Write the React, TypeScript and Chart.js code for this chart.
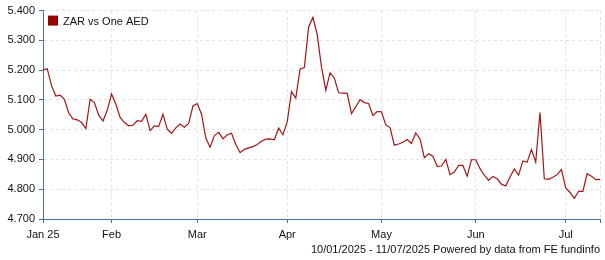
import React, { useEffect, useRef } from "react";
import { Chart, registerables } from "chart.js";

Chart.register(...registerables);

const START_DATE = "2025-01-10";
const END_DATE = "2025-07-11";
const SERIES_NAME = "ZAR vs One AED";
const FOOTER_TEXT = "10/01/2025 - 11/07/2025 Powered by data from FE fundinfo";
const MONTH_NAMES = ["Jan", "Feb", "Mar", "Apr", "May", "Jun", "Jul", "Aug", "Sep", "Oct", "Nov", "Dec"];

const Y_MIN = 4.7;
const Y_MAX = 5.4;
const Y_STEP = 0.1;

// ZAR per one AED, one value per trading day (weekdays)
const VALUES: number[] = [
  5.202, 5.204, 5.147, 5.113, 5.116, 5.102, 5.056, 5.036, 5.033, 5.024,
  5.004, 5.102, 5.091, 5.049, 5.029, 5.065, 5.12, 5.086, 5.041, 5.024,
  5.013, 5.015, 5.03, 5.028, 5.052, 4.997, 5.013, 5.011, 5.052, 5.002,
  4.988, 5.006, 5.019, 5.008, 5.021, 5.08, 5.088, 5.052, 4.972, 4.941,
  4.98, 4.991, 4.969, 4.983, 4.988, 4.95, 4.923, 4.934, 4.939, 4.943,
  4.95, 4.961, 4.968, 4.969, 4.966, 5.005, 4.983, 5.026, 5.128, 5.106,
  5.203, 5.209, 5.345, 5.377, 5.319, 5.21, 5.132, 5.191, 5.173, 5.124,
  5.123, 5.122, 5.054, 5.077, 5.101, 5.091, 5.088, 5.048, 5.061, 5.06,
  5.016, 5.007, 4.948, 4.952, 4.958, 4.967, 4.954, 4.989, 4.969, 4.906,
  4.919, 4.911, 4.877, 4.878, 4.9, 4.849, 4.858, 4.88, 4.88, 4.844,
  4.899, 4.899, 4.869, 4.847, 4.83, 4.843, 4.835, 4.817, 4.811, 4.841,
  4.868, 4.847, 4.895, 4.891, 4.933, 4.891, 5.058, 4.835, 4.833, 4.84,
  4.849, 4.866, 4.804, 4.789, 4.769, 4.793, 4.793, 4.852, 4.844, 4.832,
  4.833,
];

function weekdayDates(start: string, end: string): string[] {
  const out: string[] = [];
  const d = new Date(start + "T00:00:00Z");
  const e = new Date(end + "T00:00:00Z");
  while (d.getTime() <= e.getTime()) {
    const wd = d.getUTCDay();
    if (wd !== 0 && wd !== 6) out.push(d.toISOString().slice(0, 10));
    d.setUTCDate(d.getUTCDate() + 1);
  }
  return out;
}

const DATES = weekdayDates(START_DATE, END_DATE);

const FONT_FAMILY = "Arial, 'Liberation Sans', sans-serif";
const AXIS_COLOR = "#4572a7";
const GRID_COLOR = "#e2e2e2";
const TEXT_COLOR = "#111111";
const LINE_COLOR = "#a31515";
const LEGEND_COLOR = "#990000";

function monthOf(s: string) {
  return parseInt(s.slice(5, 7), 10) - 1;
}

const overlayPlugin = {
  id: "overlay",
  afterDraw(chart: any) {
    const { ctx, chartArea } = chart;
    ctx.save();
    ctx.fillStyle = LEGEND_COLOR;
    ctx.fillRect(chartArea.left + 5, chartArea.top + 5, 10, 10);
    ctx.font = `11px ${FONT_FAMILY}`;
    ctx.fillStyle = TEXT_COLOR;
    ctx.textAlign = "left";
    ctx.textBaseline = "alphabetic";
    ctx.fillText(SERIES_NAME, chartArea.left + 20, chartArea.top + 14);
    ctx.textAlign = "right";
    ctx.fillText(FOOTER_TEXT, chart.width - 5, 253);
    ctx.restore();
  },
};

export default function App() {
  const canvasRef = useRef<HTMLCanvasElement | null>(null);

  useEffect(() => {
    const canvas = canvasRef.current;
    if (!canvas) return;
    const chart = new Chart(canvas, {
      type: "line",
      data: {
        labels: DATES,
        datasets: [
          {
            label: SERIES_NAME,
            data: VALUES,
            borderColor: LINE_COLOR,
            borderWidth: 1.2,
            pointRadius: 0,
            tension: 0,
            fill: false,
          },
        ],
      },
      options: {
        animation: false,
        responsive: false,
        devicePixelRatio: 1,
        layout: { padding: { top: 9, right: 2, left: 0, bottom: 0 } },
        plugins: {
          legend: { display: false },
          tooltip: { enabled: false },
        },
        scales: {
          x: {
            type: "category",
            grid: {
              color: GRID_COLOR,
              tickColor: AXIS_COLOR,
              tickLength: 4,
              lineWidth: 1,
            },
            border: { color: AXIS_COLOR, width: 1, dash: [3, 3] },
            afterBuildTicks: (scale: any) => {
              const n = DATES.length;
              scale.ticks = scale.ticks.filter((t: any) => {
                const i = t.value;
                if (i === 0 || i === n - 1) return true;
                return monthOf(DATES[i]) !== monthOf(DATES[i - 1]);
              });
            },
            afterFit: (scale: any) => {
              scale.height = 41;
            },
            ticks: {
              autoSkip: false,
              maxRotation: 0,
              minRotation: 0,
              padding: 5,
              color: TEXT_COLOR,
              font: { size: 11, family: FONT_FAMILY },
              callback: (value: any) => {
                const i = Number(value);
                if (i === DATES.length - 1) return "";
                const s = DATES[i];
                const m = MONTH_NAMES[monthOf(s)];
                if (i === 0) return m + " " + s.slice(2, 4);
                return m;
              },
            },
          },
          y: {
            type: "linear",
            min: Y_MIN,
            max: Y_MAX,
            grid: {
              color: (ctx: any) =>
                ctx.tick && Math.abs(ctx.tick.value - Y_MIN) < 1e-6 ? "rgba(0,0,0,0)" : GRID_COLOR,
              tickColor: AXIS_COLOR,
              tickLength: 4,
              lineWidth: 1,
            },
            border: { color: AXIS_COLOR, width: 1, dash: [3, 3] },
            afterFit: (scale: any) => {
              scale.width = 43;
            },
            ticks: {
              stepSize: Y_STEP,
              padding: 4,
              color: TEXT_COLOR,
              font: { size: 11, family: FONT_FAMILY },
              callback: (value: any) => Number(value).toFixed(3),
            },
          },
        },
      },
      plugins: [overlayPlugin],
    } as any);
    return () => chart.destroy();
  }, []);

  return (
    <div style={{ position: "absolute", left: 0, top: 0, width: 605, height: 260, background: "#fff" }}>
      <canvas ref={canvasRef} width={605} height={260} style={{ display: "block" }} />
    </div>
  );
}
